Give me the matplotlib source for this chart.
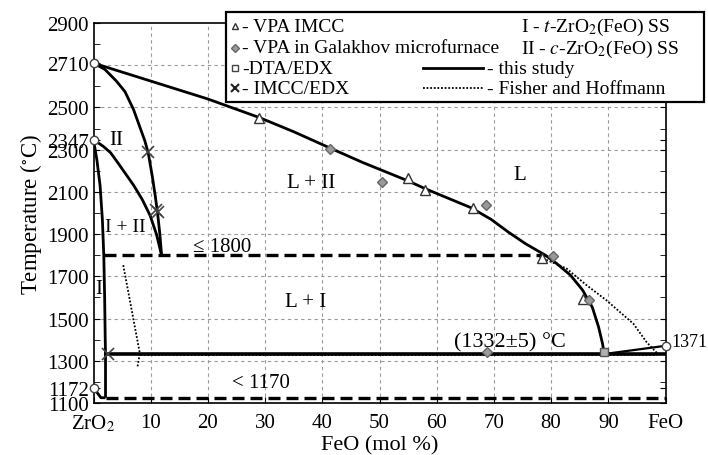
import matplotlib.pyplot as plt
from matplotlib.lines import Line2D
from matplotlib.patches import Rectangle

plt.rcParams['font.family'] = ['Liberation Serif', 'DejaVu Serif']
plt.rcParams['mathtext.fontset'] = 'stix'

# --- this study (solid lines) ---
# liquidus from ZrO2 melting point down to the eutectic
liq_x = [0, 10, 20, 29, 35, 41, 47, 52, 55, 58, 62, 66, 69.5, 72.5, 75.5, 79,
         81, 83.4, 85.5, 87.2, 88.3, 89, 89.3]
liq_t = [2710, 2625, 2540, 2452, 2385, 2312, 2240, 2185, 2152, 2115, 2070, 2025,
         1970, 1910, 1855, 1800, 1760, 1705, 1635, 1554, 1460, 1380, 1332]
# FeO side liquidus
feo_x = [89.3, 100]
feo_t = [1332, 1371]
# c-ZrO2 (II) boundary
c_x = [0, 2, 4, 5.5, 7, 8.2, 9, 9.6, 10.3, 10.8, 11.2, 11.6, 11.9]
c_t = [2710, 2680, 2625, 2575, 2490, 2400, 2340, 2280, 2170, 2080, 2000, 1900, 1800]
# I + II upper boundary
ci_x = [0, 1.7, 3, 4.1, 5.5, 7, 8.5, 9.9, 11.0, 11.9]
ci_t = [2347, 2316, 2285, 2244, 2190, 2132, 2065, 1988, 1900, 1800]
# t-ZrO2 (I) solubility limit
t_x = [0, 0.6, 1.15, 1.55, 1.8, 1.95, 2.05, 2.1, 2.1]
t_t = [2347, 2250, 2130, 1970, 1800, 1600, 1400, 1332, 1125]
# low temperature corner
low_x = [0, 1.3, 2.1]
low_t = [1172, 1125, 1125]
# eutectic
eut_x = [2.1, 100]
eut_t = [1332, 1332]
# dashed isotherms
iso1800_x = [1.8, 79]
iso1800_t = [1800, 1800]
iso1170_x = [2.1, 100]
iso1170_t = [1125, 1125]

# --- Fisher and Hoffmann (dotted) ---
fh_left_x = [5.2, 8.1, 7.7]
fh_left_t = [1753, 1335, 1273]
fh_right_x = [78.0, 82.7, 86.2, 89.7, 94.4, 96.7, 98.5]
fh_right_t = [1792, 1737, 1658, 1586, 1475, 1388, 1337]
fh_eut_x = [8.1, 98.5]
fh_eut_t = [1326, 1326]

# --- experimental points ---
tri_x = [29, 55, 58, 66.3, 78.4, 85.6]
tri_t = [2452, 2164, 2108, 2023, 1785, 1594]
dia_x = [41.3, 50.5, 68.6, 80.4, 86.6, 68.8]
dia_t = [2305, 2145, 2036, 1795, 1586, 1340]
sq_x = [89.3]
sq_t = [1340]
cross_x = [9.6, 11.3, 11.0, 2.5]
cross_t = [2290, 2004, 2012, 1332]
melt_x = [0, 0, 0, 100]
melt_t = [2710, 2347, 1172, 1371]

xticks = [0, 10, 20, 30, 40, 50, 60, 70, 80, 90, 100]
xlabels = ['ZrO$_2$', '10', '20', '30', '40', '50', '60', '70', '80', '90', 'FeO']
yticks = [1100, 1172, 1300, 1500, 1700, 1900, 2100, 2300, 2347, 2500, 2710, 2900]

fig = plt.figure(figsize=(7.08, 4.56), dpi=100)
ax = fig.add_axes([93.5 / 708, 1 - 404 / 456, (665.5 - 93.5) / 708, (404 - 24) / 456])

# grid
for g in range(1300, 2900, 200):
    ax.axhline(g, color='#999999', lw=0.8, ls=(0, (3, 3)), zorder=0)
for g in range(10, 100, 10):
    ax.axvline(g, color='#999999', lw=0.8, ls=(0, (3, 3)), zorder=0)

k = dict(color='black', lw=2, solid_capstyle='butt')
ax.plot(liq_x, liq_t, **k)
ax.plot(feo_x, feo_t, color='black', lw=1.6)
ax.plot(c_x, c_t, **k)
ax.plot(ci_x, ci_t, **k)
ax.plot(t_x, t_t, **k)
ax.plot(low_x, low_t, **k)
ax.plot(eut_x, eut_t, color='black', lw=2.6)
ax.plot(iso1800_x, iso1800_t, color='black', lw=2.4, dashes=(3.6, 1.8))
ax.plot(iso1170_x, iso1170_t, color='black', lw=2.4, dashes=(3.6, 1.8))

d = dict(color='black', lw=1.3, ls=(0, (1, 1)))
ax.plot(fh_left_x, fh_left_t, **d)
ax.plot(fh_right_x, fh_right_t, **d)
ax.plot(fh_eut_x, fh_eut_t, **d)

ax.plot(tri_x, tri_t, ls='none', marker='^', ms=7, mfc='white', mec='#333333', mew=1)
ax.plot(dia_x, dia_t, ls='none', marker='D', ms=5.5, mfc='#9a9a9a', mec='#666666', mew=1)
ax.plot(sq_x, sq_t, ls='none', marker='s', ms=6, mfc='#b0b0b0', mec='#555555', mew=1)
ax.plot(cross_x, cross_t, ls='none', marker='x', ms=9, mec='#444444', mew=1.2)
ax.plot(melt_x, melt_t, ls='none', marker='o', ms=6, mfc='white', mec='#444444',
        mew=1, clip_on=False, zorder=5)

fs = 15
ax.text(4, 2350, 'II', fontsize=fs, ha='center', va='center')
ax.text(5.5, 1935, 'I + II', fontsize=fs - 1, ha='center', va='center')
ax.text(1.0, 1643, 'I', fontsize=fs, ha='center', va='center')
ax.text(38, 2145, 'L + II', fontsize=fs, ha='center', va='center')
ax.text(37, 1582, 'L + I', fontsize=fs, ha='center', va='center')
ax.text(74.6, 2184, 'L', fontsize=fs, ha='center', va='center')
ax.text(17.4, 1843, '≤ 1800', fontsize=fs, ha='left', va='center')
ax.text(24.3, 1198, '< 1170', fontsize=fs, ha='left', va='center')
ax.text(63, 1388, '(1332±5) °C', fontsize=16, ha='left', va='center')
ax.text(101, 1392, '1371', fontsize=13, ha='left', va='center', clip_on=False)

ax.set_xlim(0, 100)
ax.set_ylim(1100, 2900)
ax.set_xticks(xticks)
ax.set_xticklabels(xlabels)
ax.set_yticks(yticks)
ax.set_yticks(range(1200, 2900, 200), minor=True)
ax.tick_params(axis='both', which='both', direction='in', labelsize=fs,
               right=True, length=4)
ax.tick_params(axis='x', pad=7)
for s in ax.spines.values():
    s.set_linewidth(1.2)

ax.set_xlabel('FeO (mol %)', fontsize=16, labelpad=1)
ax.set_ylabel('Temperature ($^{\\circ}$C)', fontsize=16.5, labelpad=2)

# legend box drawn in figure pixels
W, H = 708, 456
def fx(px):
    return px / W
def fy(py):
    return 1 - py / H

fig.add_artist(Rectangle((fx(226), fy(103)), fx(704) - fx(226), fy(13) - fy(103),
                         transform=fig.transFigure, facecolor='white',
                         edgecolor='black', lw=1.6, zorder=10))
rows = [27, 49, 69, 89]
lfs = 14
mk = [dict(marker='^', ms=5, mfc='white', mec='#333333'),
      dict(marker='D', ms=4, mfc='#9a9a9a', mec='#666666'),
      dict(marker='s', ms=4.5, mfc='white', mec='#444444'),
      dict(marker='x', ms=6, mec='#222222', mew=1.5)]
ltxt = ['- VPA IMCC', '- VPA in Galakhov microfurnace', '-DTA/EDX', '- IMCC/EDX']
for r, m, t in zip(rows, mk, ltxt):
    fig.add_artist(Line2D([fx(235)], [fy(r)], transform=fig.transFigure,
                          ls='none', zorder=11, **m))
    fig.text(fx(242), fy(r), t, fontsize=lfs, va='center', ha='left', zorder=11)
fig.text(fx(521), fy(rows[0]), 'I - $t$-ZrO$_2$(FeO) SS', fontsize=lfs,
         va='center', ha='left', zorder=11)
fig.text(fx(521), fy(rows[1]), 'II - $c$-ZrO$_2$(FeO) SS', fontsize=lfs,
         va='center', ha='left', zorder=11)
fig.add_artist(Line2D([fx(423), fx(483)], [fy(rows[2])] * 2, transform=fig.transFigure,
                      color='black', lw=2, zorder=11))
fig.add_artist(Line2D([fx(423), fx(483)], [fy(rows[3])] * 2, transform=fig.transFigure,
                      color='black', lw=1.3, ls=(0, (1, 1)), zorder=11))
fig.text(fx(487), fy(rows[2]), '- this study', fontsize=lfs, va='center', ha='left', zorder=11)
fig.text(fx(487), fy(rows[3]), '- Fisher and Hoffmann', fontsize=lfs, va='center',
         ha='left', zorder=11)

fig.savefig('out.png', dpi=100)
